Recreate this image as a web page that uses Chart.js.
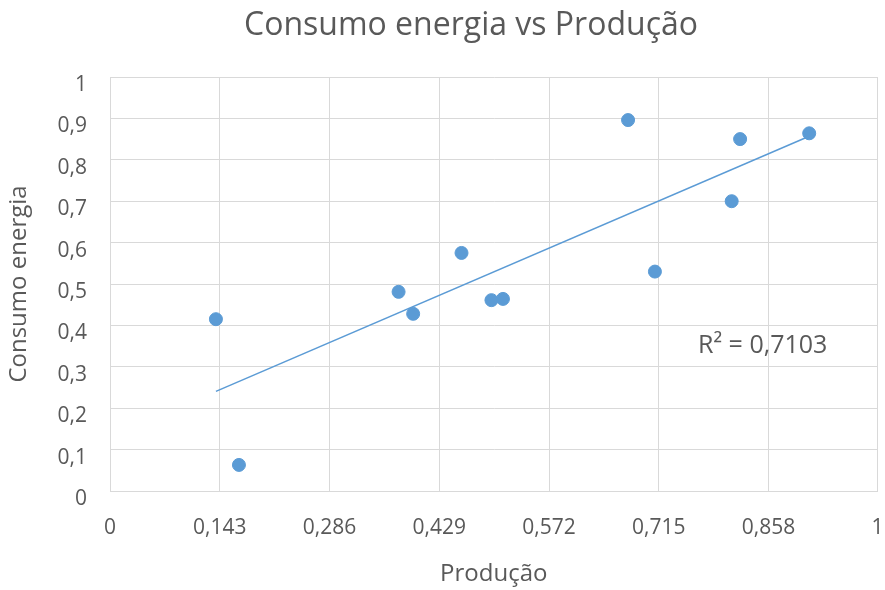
<!DOCTYPE html>
<html>
<head>
<meta charset="utf-8">
<title>Consumo energia vs Produção</title>
<script src="https://cdn.jsdelivr.net/npm/chart.js@4.4.0/dist/chart.umd.min.js"></script>
<style>
  body { margin: 0; background: #fff; }
  canvas { display: block; }
</style>
</head>
<body>
<canvas id="myChart" width="885" height="590"></canvas>
<script>
// dados
const producao = [0.138, 0.168, 0.376, 0.395, 0.458, 0.497, 0.512, 0.675, 0.710, 0.810, 0.821, 0.911];
const consumo = [0.415, 0.063, 0.481, 0.428, 0.575, 0.461, 0.464, 0.896, 0.530, 0.700, 0.850, 0.864];
const xTicks = [0, 0.143, 0.286, 0.429, 0.572, 0.715, 0.858, 1];
const titulo = "Consumo energia vs Produção";
const rotuloR2 = "R² = 0,7103";

const azul = '#5b9bd5';
const cinza = '#595959';
const grade = '#d9d9d9';

const virgula = (v) => String(Number(v.toFixed(3))).replace('.', ',');

// linha de tendencia (minimos quadrados)
const tendencia = () => {
    const n = producao.length;
    let mx = 0, my = 0;
    for (let i = 0; i < n; i++) { mx += producao[i]; my += consumo[i]; }
    mx /= n; my /= n;
    let sxy = 0, sxx = 0;
    for (let i = 0; i < n; i++) {
        sxy += (producao[i] - mx) * (consumo[i] - my);
        sxx += (producao[i] - mx) * (producao[i] - mx);
    }
    const a = sxy / sxx;
    const b = my - a * mx;
    const x0 = Math.min(...producao);
    const x1 = Math.max(...producao);
    return [{x: x0, y: a * x0 + b}, {x: x1, y: a * x1 + b}];
};

const pontos = producao.map((x, i) => ({x: x, y: consumo[i]}));

const textos = {
    id: 'textos',
    afterDraw(chart) {
        const ctx = chart.ctx;
        ctx.save();
        ctx.fillStyle = cinza;
        ctx.textBaseline = 'alphabetic';
        ctx.font = '32px "Open Sans"';
        ctx.textAlign = 'center';
        ctx.fillText(titulo, 471, 35);
        ctx.font = '25px "Open Sans"';
        ctx.textAlign = 'left';
        ctx.fillText(rotuloR2, 698, 353);
        ctx.restore();
    }
};

Chart.defaults.font.family = '"Open Sans"';
Chart.defaults.color = cinza;

const ctx = document.getElementById('myChart').getContext('2d');
const myChart = new Chart(ctx, {
    type: 'scatter',
    data: {
        datasets: [
            {
                label: 'Consumo energia',
                data: pontos,
                backgroundColor: azul,
                borderColor: azul,
                pointRadius: 6.5,
                pointHoverRadius: 6.5
            },
            {
                type: 'line',
                label: 'Tendência',
                data: tendencia(),
                borderColor: azul,
                borderWidth: 1.5,
                pointRadius: 0,
                fill: false
            }
        ]
    },
    options: {
        responsive: false,
        animation: false,
        layout: { padding: { top: 77, left: 0, right: 0, bottom: 0 } },
        plugins: {
            legend: { display: false },
            title: { display: false },
            tooltip: { enabled: false }
        },
        scales: {
            x: {
                type: 'linear',
                min: 0,
                max: 1,
                afterBuildTicks: (scale) => {
                    scale.ticks = xTicks.map(v => ({value: v}));
                },
                afterFit: (scale) => {
                    scale.height = 99;
                    scale.paddingLeft = 0;
                    scale.paddingRight = 2;
                },
                ticks: {
                    font: { size: 21 },
                    padding: 24,
                    maxRotation: 0,
                    callback: (v) => virgula(v)
                },
                grid: { color: grade, drawTicks: false },
                border: { color: grade },
                title: {
                    display: true,
                    text: 'Produção',
                    font: { size: 24 },
                    padding: { top: 0, bottom: 1 }
                }
            },
            y: {
                min: 0,
                max: 1,
                afterFit: (scale) => { scale.width = 110; },
                ticks: {
                    stepSize: 0.1,
                    font: { size: 21 },
                    padding: 23,
                    labelOffset: 8,
                    callback: (v) => virgula(v)
                },
                grid: { color: grade, drawTicks: false },
                border: { color: grade },
                title: {
                    display: true,
                    text: 'Consumo energia',
                    font: { size: 24 },
                    padding: { top: 5, bottom: 0 }
                }
            }
        }
    },
    plugins: [textos]
});
</script>
</body>
</html>
